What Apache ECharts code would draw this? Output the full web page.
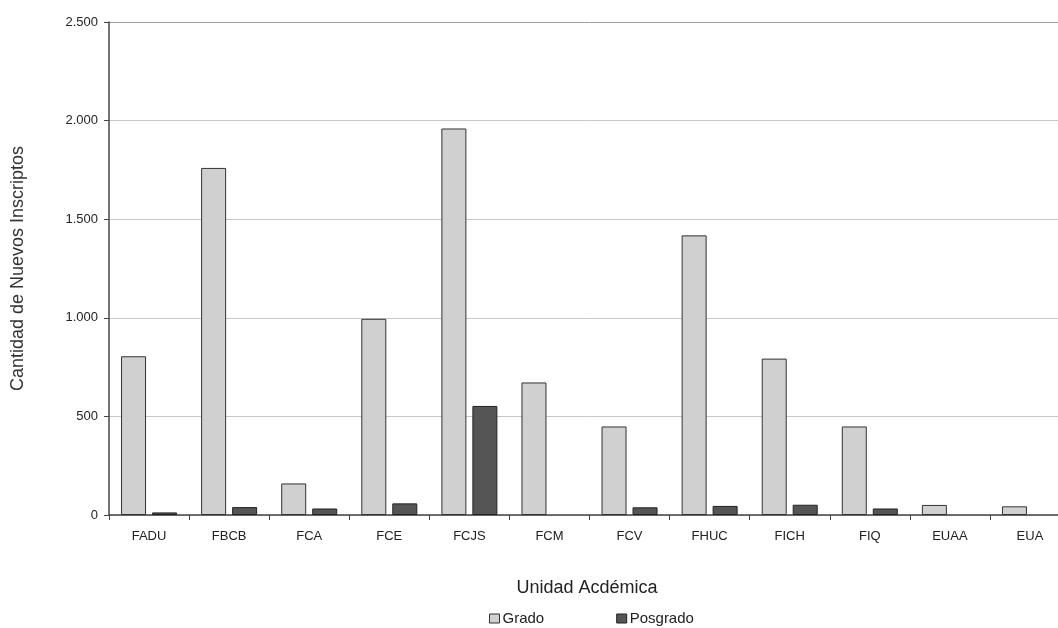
<!DOCTYPE html>
<html>
<head>
<meta charset="utf-8">
<script src="https://cdn.jsdelivr.net/npm/echarts@6/dist/echarts.min.js"></script>
<style>html,body{margin:0;padding:0;background:#fff;overflow:hidden;width:1058px;height:628px}#c{width:1070px;height:628px}</style>
</head>
<body>
<div id="c"></div>
<script>
var categories = ['FADU','FBCB','FCA','FCE','FCJS','FCM','FCV','FHUC','FICH','FIQ','EUAA','EUA'];
var grado = [805, 1760, 160, 995, 1960, 672, 449, 1418, 793, 449, 51, 44];
var posgrado = [13, 40, 33, 59, 553, null, 39, 46, 52, 33, null, null];
var yTicks = [0, 500, 1000, 1500, 2000, 2500];

function fmt(v){ return String(v).replace(/\B(?=(\d{3})+(?!\d))/g, '.'); }

var chart = echarts.init(document.getElementById('c'));
var font = 'Liberation Sans, Arial, sans-serif';
chart.setOption({
  animation: false,
  textStyle: { fontFamily: font },
  grid: { left: 109, right: 0, top: 22, bottom: 113, containLabel: false },
  legend: {
    top: 611, left: 489, padding: 0, itemWidth: 10, itemHeight: 9, itemGap: 72, icon: 'rect',
    textStyle: { fontSize: 15, color: '#222', fontFamily: font, padding: [0, 0, 0, -2] },
    data: [
      { name: 'Grado', itemStyle: { color: '#d0d0d0', borderColor: '#333', borderWidth: 1 } },
      { name: 'Posgrado', itemStyle: { color: '#555555', borderColor: '#222', borderWidth: 1 } }
    ]
  },
  xAxis: {
    type: 'category', data: categories,
    name: 'Unidad Acdémica', nameLocation: 'middle', nameGap: 64,
    nameTextStyle: { fontSize: 18, color: '#222', padding: [0, 5, 0, 0] },
    axisLine: { lineStyle: { color: '#444', width: 1.5 } },
    axisTick: { show: true, length: 5, alignWithLabel: false, lineStyle: { color: '#444' } },
    axisLabel: { fontSize: 13, color: '#222', margin: 15 }
  },
  yAxis: {
    type: 'value', min: yTicks[0], max: yTicks[yTicks.length - 1], interval: yTicks[1] - yTicks[0],
    name: 'Cantidad de Nuevos Inscriptos', nameLocation: 'middle', nameGap: 82,
    nameTextStyle: { fontSize: 18, color: '#333' },
    axisLine: { show: true, lineStyle: { color: '#444', width: 1.5 } },
    axisTick: { show: true, length: 5, lineStyle: { color: '#444' } },
    axisLabel: { fontSize: 13, color: '#222', margin: 11, formatter: function(v){ return fmt(v); } },
    splitLine: { lineStyle: { color: ['#c8c8c8','#c8c8c8','#c8c8c8','#c8c8c8','#c8c8c8','#a0a0a0'], width: 1 } }
  },
  series: [
    { name: 'Grado', type: 'bar', data: grado, barWidth: 25, barGap: '24%',
      itemStyle: { color: '#d0d0d0', borderColor: '#333', borderWidth: 1 } },
    { name: 'Posgrado', type: 'bar', data: posgrado.map(function(v){ return v === null ? '-' : v; }), barWidth: 25,
      itemStyle: { color: '#555555', borderColor: '#222', borderWidth: 1 } }
  ]
});
</script>
</body>
</html>
